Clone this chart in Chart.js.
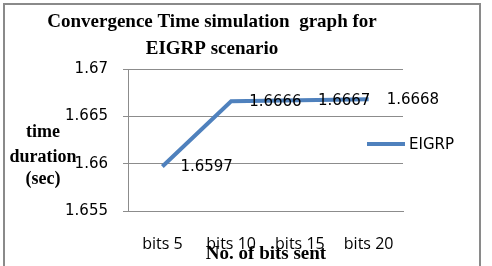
<!DOCTYPE html>
<html>
<head>
<meta charset="utf-8">
<script src="https://cdn.jsdelivr.net/npm/chart.js@4/dist/chart.umd.min.js"></script>
<style>
  html, body { margin: 0; padding: 0; background: #fff; }
  #wrap { position: relative; width: 492px; height: 266px; }
</style>
</head>
<body>
<div id="wrap"><canvas id="chart" width="492" height="266"></canvas></div>
<script>
const categories = ["bits 5", "bits 10", "bits 15", "bits 20"];
const eigrpTimes = [1.6597, 1.6666, 1.6667, 1.6668];
const yTicks = [1.655, 1.66, 1.665, 1.67];
const titleLines = ["Convergence Time simulation  graph for", "EIGRP scenario"];
const yTitleLines = ["time", "duration", "(sec)"];
const xTitle = "No. of bits sent";

const lineColor = "#4f81bd";
const gridColor = "#8c8c8c";

// frame, titles, data labels and legend drawn on the canvas
const decorations = {
  id: "decorations",
  beforeDraw(chart) {
    const ctx = chart.ctx;
    ctx.save();
    ctx.strokeStyle = "#8a8a8a";
    ctx.lineWidth = 2;
    ctx.strokeRect(4, 4, 476, 290);
    ctx.restore();
  },
  afterDraw(chart) {
    const ctx = chart.ctx;
    ctx.save();
    ctx.fillStyle = "#000";
    ctx.textBaseline = "middle";

    ctx.font = "bold 19px 'Liberation Serif'";
    ctx.textAlign = "center";
    ctx.fillText(titleLines[0], 212, 22);
    ctx.fillText(titleLines[1], 212, 49);

    ctx.font = "bold 18px 'Liberation Serif'";
    const ys = [132, 157, 179];
    yTitleLines.forEach((t, i) => ctx.fillText(t, 43, ys[i]));
    ctx.font = "bold 19px 'Liberation Serif'";
    ctx.fillText(xTitle, 266, 254);

    // data labels next to each point
    ctx.font = "15px 'DejaVu Sans'";
    ctx.textAlign = "left";
    const meta = chart.getDatasetMeta(0);
    meta.data.forEach((pt, i) => {
      ctx.fillText(eigrpTimes[i].toFixed(4), pt.x + 18, pt.y + 1);
    });

    // legend
    const ds = chart.data.datasets[0];
    ctx.strokeStyle = ds.borderColor;
    ctx.lineWidth = 4;
    ctx.beginPath();
    ctx.moveTo(367, 144);
    ctx.lineTo(405, 144);
    ctx.stroke();
    ctx.fillText(ds.label, 409, 145);
    ctx.restore();
  }
};

new Chart(document.getElementById("chart"), {
  type: "line",
  data: {
    labels: categories,
    datasets: [{
      label: "EIGRP",
      data: eigrpTimes,
      borderColor: lineColor,
      backgroundColor: lineColor,
      borderWidth: 4,
      pointRadius: 0,
      tension: 0
    }]
  },
  options: {
    responsive: false,
    animation: false,
    events: [],
    layout: { padding: { left: 0, top: 69, right: 89, bottom: 0 } },
    plugins: {
      legend: { display: false },
      title: { display: false },
      tooltip: { enabled: false }
    },
    scales: {
      x: {
        offset: true,
        grid: { display: false, drawTicks: false },
        border: { color: gridColor, width: 1 },
        ticks: { color: "#000", padding: 24, font: { family: "'Open Sans'", size: 16 }, maxRotation: 0 },
        afterFit(s) { s.height = 55; }
      },
      y: {
        min: 1.655,
        max: 1.67,
        afterBuildTicks(s) { s.ticks = yTicks.map(v => ({ value: v })); },
        grid: { color: gridColor, lineWidth: 1, tickLength: 5 },
        border: { color: gridColor, width: 1 },
        ticks: {
          color: "#000",
          padding: 15,
          font: { family: "'DejaVu Sans'", size: 15 },
          callback: v => String(+v.toFixed(3))
        },
        afterFit(s) { s.width = 128; }
      }
    }
  },
  plugins: [decorations]
});
</script>
</body>
</html>
